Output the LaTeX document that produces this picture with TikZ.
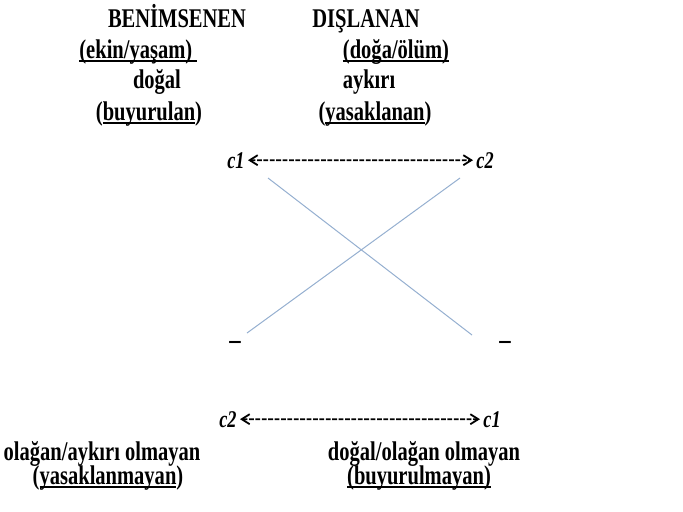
\documentclass[tikz,border=0pt]{standalone}
\usepackage{fontspec}
\setmainfont{Liberation Serif}[FakeStretch=0.76]
\usepackage{xcolor}
\usetikzlibrary{arrows.meta}
\definecolor{capmavi}{HTML}{95AFD0}
\newcommand{\cizgi}[1]{\setbox0\hbox{#1}\rlap{\rule[-2pt]{\wd0}{0.9pt}}\box0}

\begin{document}
\begin{tikzpicture}[x=0.5pt, y=-0.5pt,
  yazi/.style={font=\fontsize{13.5}{15}\selectfont\bfseries, anchor=base, inner sep=0pt},
  ckod/.style={font=\fontsize{12}{14}\selectfont\bfseries\itshape, anchor=base, inner sep=1.5pt},
  okcizgi/.style={line width=0.9pt, dash pattern=on 2.4pt off 0.8pt,
                  {Straight Barb[length=4pt, width=5pt]}-{Straight Barb[length=4pt, width=5pt]}},
  capraz/.style={draw=capmavi, line width=0.5pt}
]
  \useasboundingbox (0,0) rectangle (683,511);

  \node[yazi] (ben) at (177,27) {BENİMSENEN};
  \node[yazi] (dis) at (366,27) {DIŞLANAN};
  \node[yazi, anchor=base west] (ekin) at (79,58) {\cizgi{(ekin/yaşam)\ }};
  \node[yazi] (doga) at (396,58) {\cizgi{(doğa/ölüm)}};
  \node[yazi] (dogal) at (157,88) {doğal};
  \node[yazi] (aykiri) at (369,88) {aykırı};
  \node[yazi] (buy) at (149,120) {(\cizgi{buyurulan})};
  \node[yazi] (yas) at (375,120) {(\cizgi{yasaklanan})};

  \node[ckod] (c1u) at (236,168) {c1};
  \node[ckod] (c2u) at (485,168) {c2};
  \draw[okcizgi] (c1u) -- (c2u);

  \coordinate (a1) at (268,178);
  \coordinate (a2) at (472,335);
  \coordinate (b1) at (460,178);
  \coordinate (b2) at (247,333);
  \draw[capraz] (a1) -- (a2);
  \draw[capraz] (b1) -- (b2);

  \node[yazi, anchor=center] (tl) at (235,345) {\fontsize{15}{15}\selectfont –};
  \node[yazi, anchor=center] (tr) at (505,345) {\fontsize{15}{15}\selectfont –};

  \node[ckod] (c2a) at (228,427) {c2};
  \node[ckod] (c1a) at (492,427) {c1};
  \draw[okcizgi] (c2a) -- (c1a);

  \node[yazi] (olagan) at (102,460) {olağan/aykırı olmayan};
  \node[yazi] (dogalo) at (424,460) {doğal/olağan olmayan};
  \node[yazi] (yasm) at (108,484) {(\cizgi{yasaklanmayan})};
  \node[yazi] (buym) at (419,484) {\cizgi{(buyurulmayan)}};
\end{tikzpicture}
\end{document}
